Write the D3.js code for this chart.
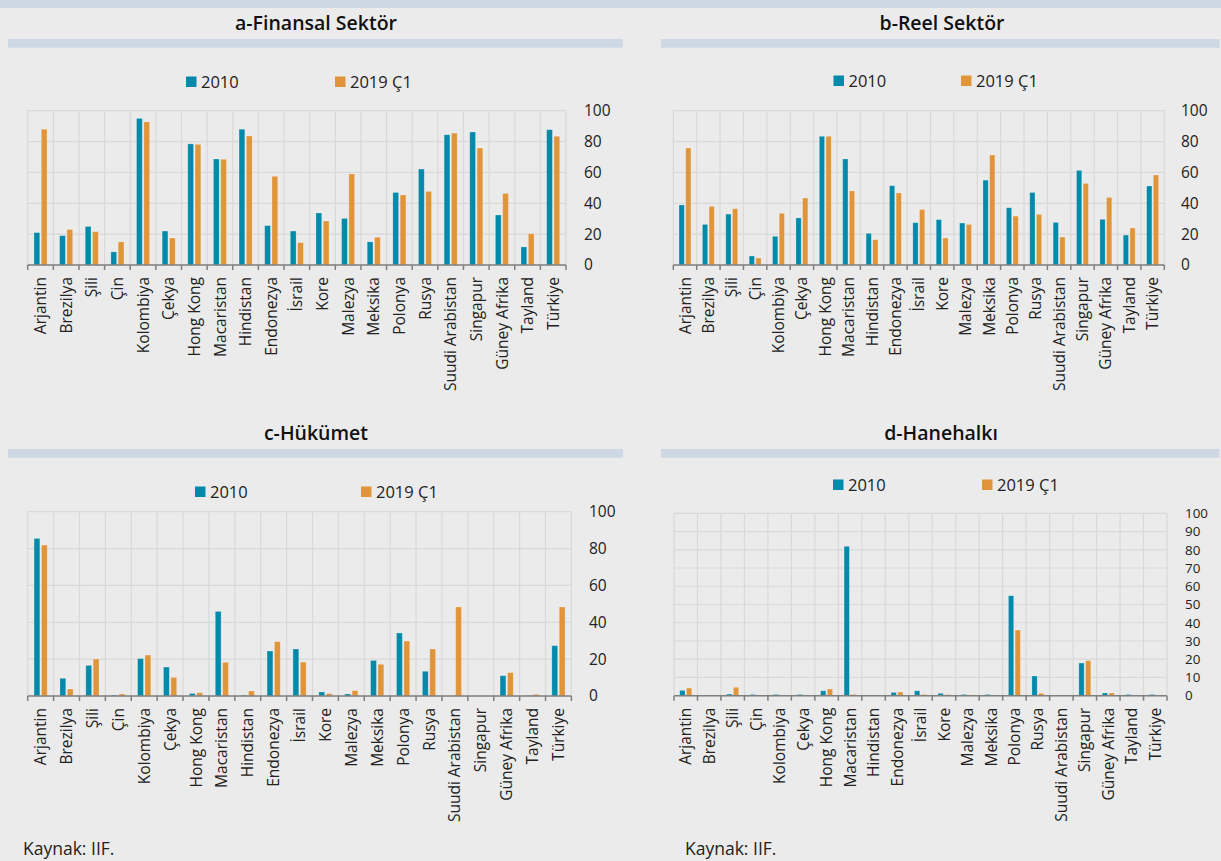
<!DOCTYPE html>
<html>
<head>
<meta charset="utf-8">
<script src="https://cdn.jsdelivr.net/npm/d3@7"></script>
<style>
  html, body { margin: 0; padding: 0; background: #ebebeb; }
  svg { display: block; font-family: "Open Sans", sans-serif; }
</style>
</head>
<body>
<svg id="chart" width="1221" height="861"></svg>
<script>
// ---- Data ----
const categories = ["Arjantin","Brezilya","Şili","Çin","Kolombiya","Çekya","Hong Kong","Macaristan","Hindistan","Endonezya","İsrail","Kore","Malezya","Meksika","Polonya","Rusya","Suudi Arabistan","Singapur","Güney Afrika","Tayland","Türkiye"];
const seriesNames = ["2010", "2019 Ç1"];
const titles = ["a-Finansal Sektör", "b-Reel Sektör", "c-Hükümet", "d-Hanehalkı"];

const finansal2010 = [21,19,25,8.5,95,22,78.5,68.7,88,25.5,22,33.7,30.2,15,47,62.2,84.4,86.2,32.4,11.7,87.7];
const finansal2019 = [88,23,21.6,15,92.7,17.5,78.2,68.5,83.6,57.5,14.5,28.5,59,18,45.4,47.7,85.5,75.8,46.4,20.3,83.4];
const reel2010 = [38.9,26.3,33,5.8,18.6,30.5,83.4,68.7,20.5,51.4,27.4,29.4,27.2,55,37.1,47,27.6,61.3,29.6,19.4,51.2];
const reel2019 = [75.8,38,36.5,4.5,33.5,43.4,83.4,48,16.4,46.7,36,17.5,26.3,71.3,31.7,32.8,18.1,52.9,43.8,24,58.3];
const hukumet2010 = [85.5,9.6,16.6,0.5,20.3,15.7,1.4,45.9,0.4,24.4,25.5,2.2,1.1,19.3,34.2,13.4,0,0,11,0.3,27.3];
const hukumet2019 = [81.9,3.8,20.1,1.1,22.2,10.1,1.8,18.3,2.7,29.5,18.4,1.3,2.9,17.2,29.8,25.5,48.3,0,12.7,0.9,48.3];
const hane2010 = [2.9,0,0.9,0.7,0.7,0.7,2.7,81.9,0,1.8,2.7,1.3,0.7,0.7,54.8,10.8,0,17.9,1.5,0.7,0.7];
const hane2019 = [4.2,0,4.6,0,0,0,3.7,0.7,0,2,0.7,0.6,0.5,0,36,1.3,0,19.2,1.5,0,0];

const ticks20 = [0,20,40,60,80,100];
const ticks10 = [0,10,20,30,40,50,60,70,80,90,100];
const source = "Kaynak: IIF.";

// ---- Styles / layout ----
const COL = ["#028aab", "#e0953a"];
const BAND = "#cdd8e4";
const GRID = "#d9d9d9";
const AXIS = "#7f7f7f";

const svg = d3.select("#chart");
svg.append("rect").attr("width",1221).attr("height",861).attr("fill","#ebebeb");
svg.append("rect").attr("x",0).attr("y",0).attr("width",1221).attr("height",8).attr("fill",BAND);

const panels = [
  { title: titles[0], s: [finansal2010, finansal2019], ticks: ticks20, fs: 15.5,
    tx: 316, ty: 30, band: [8, 622.7, 39], leg: [186, 335, 82],
    plot: {x0: 27.7, x1: 566, y0: 265, y1: 110.7}, lx: 584 },
  { title: titles[1], s: [reel2010, reel2019], ticks: ticks20, fs: 15.5,
    tx: 942, ty: 30, band: [661, 1219.5, 39], leg: [833.5, 961, 81],
    plot: {x0: 673.3, x1: 1164.3, y0: 265, y1: 110.7}, lx: 1181 },
  { title: titles[2], s: [hukumet2010, hukumet2019], ticks: ticks20, fs: 15.5,
    tx: 316, ty: 440, band: [8, 623, 449], leg: [195, 361, 492],
    plot: {x0: 27.7, x1: 571.4, y0: 696, y1: 511.7}, lx: 589 },
  { title: titles[3], s: [hane2010, hane2019], ticks: ticks10, fs: 13.4,
    tx: 941, ty: 440, band: [661, 1219.5, 449], leg: [833, 982, 485],
    plot: {x0: 674, x1: 1167, y0: 695.7, y1: 513.3}, lx: 1185 }
];

panels.forEach(p => {
  const g = svg.append("g");
  // title
  g.append("text").attr("x", p.tx).attr("y", p.ty).attr("text-anchor","middle")
    .attr("font-size", 19.5).attr("font-weight", 600).attr("fill","#111").text(p.title);
  g.append("rect").attr("x", p.band[0]).attr("y", p.band[2]).attr("width", p.band[1]-p.band[0])
    .attr("height", 8.7).attr("fill", BAND);

  // legend
  seriesNames.forEach((n,i) => {
    const lx = p.leg[i];
    g.append("rect").attr("x", lx).attr("y", p.leg[2]-5.5).attr("width", 10.5).attr("height", 10.5).attr("fill", COL[i]);
    g.append("text").attr("x", lx+15).attr("y", p.leg[2]+6).attr("font-size", 16.5).attr("fill","#222").text(n);
  });

  const x = d3.scaleBand().domain(categories).range([p.plot.x0, p.plot.x1]).paddingInner(0).paddingOuter(0);
  const w = x.bandwidth();
  const xs = d3.scaleBand().domain(seriesNames).range([0.245*w, 0.755*w]).paddingInner(0.21).paddingOuter(0);
  const y = d3.scaleLinear().domain([0,100]).range([p.plot.y0, p.plot.y1]);

  // gridlines
  g.append("g").selectAll("line.h").data(p.ticks).join("line")
    .attr("x1", p.plot.x0).attr("x2", p.plot.x1).attr("y1", d=>y(d)).attr("y2", d=>y(d))
    .attr("stroke", GRID).attr("stroke-width", 1.2);
  const bounds = categories.map(c => x(c)).concat([p.plot.x1]);
  g.append("g").selectAll("line.v").data(bounds).join("line")
    .attr("x1", d=>d).attr("x2", d=>d).attr("y1", p.plot.y1).attr("y2", p.plot.y0)
    .attr("stroke", GRID).attr("stroke-width", 1.2);

  // bars
  seriesNames.forEach((n,i) => {
    g.append("g").selectAll("rect").data(categories.map((c,j)=>({c, v:p.s[i][j]}))).join("rect")
      .attr("x", d => x(d.c) + xs(n)).attr("width", xs.bandwidth())
      .attr("y", d => y(d.v)).attr("height", d => y(0) - y(d.v))
      .attr("fill", COL[i]).attr("stroke", "rgba(255,255,255,0.3)").attr("stroke-width", 0.8);
  });

  // x axis (category boundary ticks)
  const xAxis = g.append("g").attr("transform", `translate(0,${p.plot.y0})`);
  xAxis.append("line").attr("x1", p.plot.x0).attr("x2", p.plot.x1).attr("stroke", AXIS).attr("stroke-width", 1.5);
  xAxis.selectAll("line.t").data(bounds).join("line")
    .attr("x1", d=>d).attr("x2", d=>d).attr("y1", 0).attr("y2", 5).attr("stroke", AXIS).attr("stroke-width", 1.5);
  xAxis.selectAll("text").data(categories).join("text")
    .attr("transform", d => `translate(${x(d)+w/2},12) rotate(-90)`)
    .attr("text-anchor","end").attr("dy","0.36em").attr("font-size", 15.5).attr("fill","#222").text(d=>d);

  // y axis labels on the right
  const yAxis = d3.axisRight(y).tickValues(p.ticks).tickSize(0).tickPadding(0);
  const ya = g.append("g").attr("transform", `translate(${p.lx},0)`).call(yAxis);
  ya.select(".domain").remove();
  ya.selectAll("text").attr("font-size", p.fs).attr("font-family", "Open Sans, sans-serif").attr("fill","#222");
});

// sources
svg.append("text").attr("x", 23).attr("y", 855).attr("font-size", 17.5).attr("fill","#222").text(source);
svg.append("text").attr("x", 685).attr("y", 855).attr("font-size", 17.5).attr("fill","#222").text(source);
</script>
</body>
</html>
